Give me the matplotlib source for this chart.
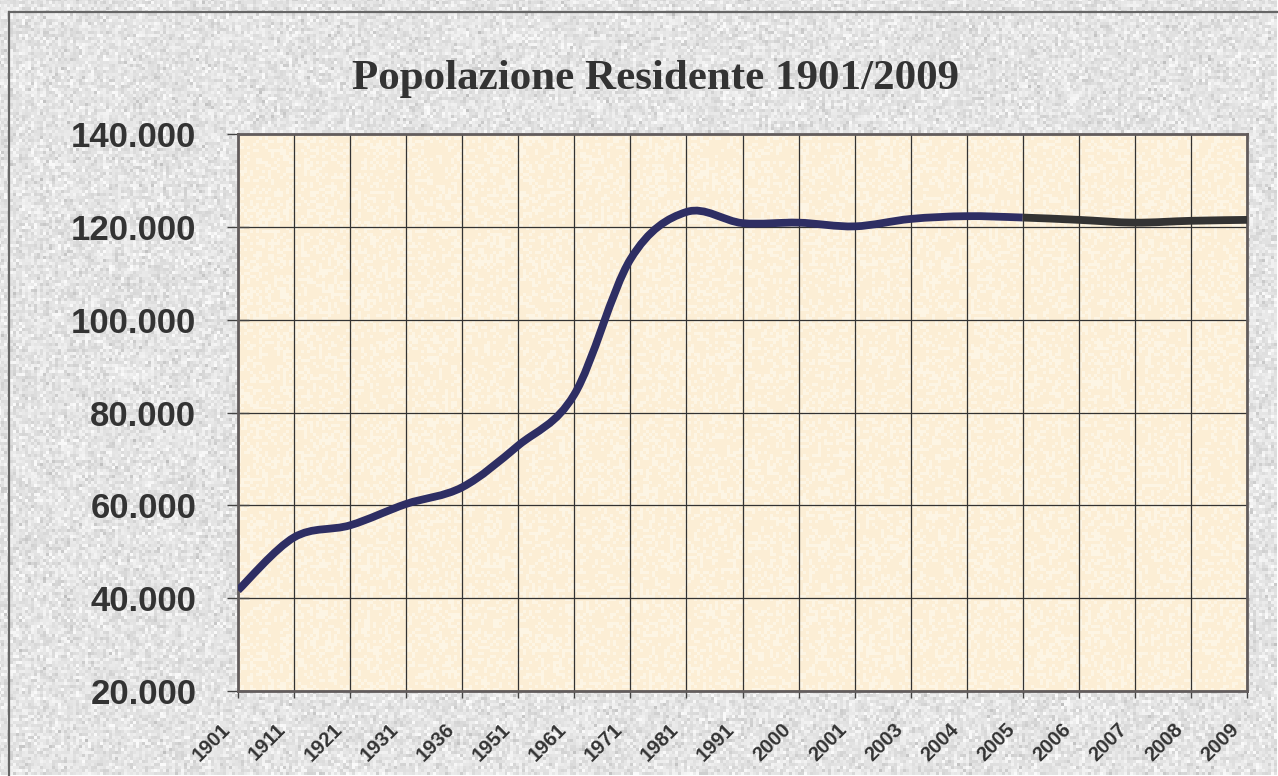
import numpy as np
import matplotlib
matplotlib.use("Agg")
import matplotlib.pyplot as plt
from matplotlib.path import Path
from matplotlib.patches import PathPatch
from matplotlib.ticker import FuncFormatter, MultipleLocator
from matplotlib.transforms import ScaledTranslation

# Data
years = ["1901", "1911", "1921", "1931", "1936", "1951", "1961", "1971", "1981",
         "1991", "2000", "2001", "2003", "2004", "2005", "2006", "2007", "2008", "2009"]
population = [41700, 53100, 55700, 60300, 63900, 72900, 83900, 113000, 123200,
              120800, 120900, 120100, 121700, 122300, 122000, 121500, 120900, 121300, 121500]
split_at = years.index("2005")  # line colour changes after this point

W, H = 1278, 776
fig = plt.figure(figsize=(W / 100, H / 100), dpi=100)

# speckled grey backdrop
rng = np.random.default_rng(7)
bg = fig.add_axes([0, 0, 1, 1], zorder=-2)
grain = rng.normal(228, 11, size=(H // 3 + 1, W // 3 + 1)).clip(190, 250)
bg.imshow(grain, cmap="gray", vmin=0, vmax=255, aspect="auto", interpolation="nearest")
bg.set_axis_off()
# outer frame (top and left edges visible)
gh, gw = grain.shape
bg.plot([9 / W * gw, gw], [12 / H * gh] * 2, color="#666666", lw=1.6)
bg.plot([9 / W * gw] * 2, [12 / H * gh, gh], color="#666666", lw=1.6)
bg.set_xlim(0, gw)
bg.set_ylim(gh, 0)

# plot area
pos = [238 / W, (H - 691) / H, (1247 - 238) / W, (691 - 134) / H]
paper = fig.add_axes(pos, zorder=0)
tex = rng.normal(0, 1, size=(186, 336))
base = np.array([252, 238, 213]) / 255
hi = np.array([253, 245, 228]) / 255
mix = (tex > 0.4).astype(float)[..., None]
paper.imshow(base * (1 - mix) + hi * mix, aspect="auto", interpolation="nearest")
paper.set_axis_off()

ax = fig.add_axes(pos, zorder=1)
ax.set_facecolor("none")

x = np.arange(len(years))
pts = np.column_stack([x, population]).astype(float)


def smooth_path(p):
    # Catmull-Rom style bezier through the points (like Excel's smoothed line)
    ext = np.vstack([p[0], p, p[-1]])
    verts = [p[0]]
    codes = [Path.MOVETO]
    for i in range(1, len(ext) - 2):
        p0, p1, p2, p3 = ext[i - 1], ext[i], ext[i + 1], ext[i + 2]
        verts += [p1 + (p2 - p0) / 6, p2 - (p3 - p1) / 6, p2]
        codes += [Path.CURVE4] * 3
    return Path(verts, codes)


full = smooth_path(pts)
cut = 3 * split_at
first = Path(full.vertices[:cut + 1], full.codes[:cut + 1])
second_codes = np.array(full.codes[cut:])
second_codes[0] = Path.MOVETO
second = Path(full.vertices[cut:], second_codes)

ax.add_patch(PathPatch(first, facecolor="none", edgecolor="#2e2e63", lw=5.6,
                       capstyle="butt", joinstyle="round", zorder=3))
ax.add_patch(PathPatch(second, facecolor="none", edgecolor="#333333", lw=5.6,
                       capstyle="butt", joinstyle="round", zorder=3))

ax.set_xlim(0, len(years) - 1)
ax.set_ylim(20000, 140000)
ax.yaxis.set_major_locator(MultipleLocator(20000))
ax.yaxis.set_major_formatter(FuncFormatter(lambda v, _: f"{v:,.0f}".replace(",", ".")))
ax.set_xticks(x)
ax.set_xticklabels(years)

ax.grid(True, color="#333333", lw=0.9)
ax.set_axisbelow(True)
for s in ax.spines.values():
    s.set_color("#625c5c")
    s.set_linewidth(2.0)

ax.tick_params(axis="y", direction="inout", length=16, width=1.0, color="#444444",
               pad=22, labelsize=25, labelcolor="#333333")
ax.tick_params(axis="x", direction="out", length=5, width=1.0, color="#444444",
               pad=3, labelsize=14.5, labelcolor="#333333")
for lab in ax.get_yticklabels():
    lab.set_fontfamily("Liberation Sans")
    lab.set_fontweight("bold")
shift = ScaledTranslation(-11 / 100, -24 / 100, fig.dpi_scale_trans)
for lab in ax.get_xticklabels():
    lab.set_fontfamily("Liberation Sans")
    lab.set_fontweight("bold")
    lab.set_rotation(45)
    lab.set_ha("right")
    lab.set_va("center")
    lab.set_rotation_mode("anchor")
    lab.set_transform(lab.get_transform() + shift)

fig.text(656 / W, 1 - 79 / H, "Popolazione Residente 1901/2009", ha="center", va="center",
         fontsize=31, fontweight="bold", family="Liberation Serif", color="#333333")

fig.savefig("out.png", dpi=100)
